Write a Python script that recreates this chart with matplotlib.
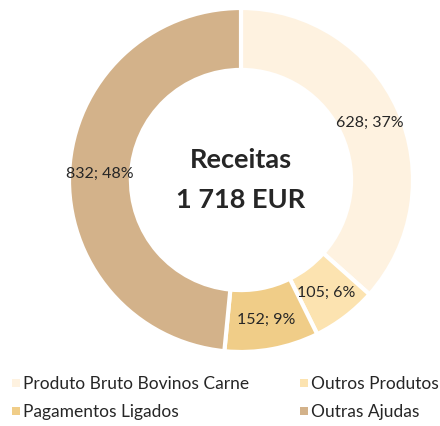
import matplotlib
matplotlib.use("Agg")
import matplotlib.pyplot as plt
import numpy as np

categories = ["Produto Bruto Bovinos Carne", "Outros Produtos", "Pagamentos Ligados", "Outras Ajudas"]
values = [628, 105, 152, 832]
percents = [37, 6, 9, 48]
colors = ["#FEF2E0", "#FCE3B0", "#F0CD88", "#D3B28A"]
total_label = "1 718 EUR"
title = "Receitas"

plt.rcParams['font.family'] = ['Lato', 'DejaVu Sans']

fig = plt.figure(figsize=(4.4, 4.27), dpi=100)
ax = fig.add_axes([69/440, 1 - 353/427, 344/440, 344/427])
ax.set_aspect('equal')
width = 0.36
wedges, _ = ax.pie(values, colors=colors, startangle=90, counterclock=False, radius=1,
                   wedgeprops=dict(width=width, edgecolor='white', linewidth=3))
cum = np.cumsum([0] + values[:-1])
tot = sum(values)
for v, p, c0 in zip(values, percents, cum):
    mid = 90 - 360 * (c0 + v / 2) / tot
    r = 1 - width / 2
    ax.text(r * np.cos(np.radians(mid)), r * np.sin(np.radians(mid)), f"{v}; {p}%",
            ha='center', va='center', fontsize=11.5, color='#262626')
ax.text(0, 0.12, title, ha='center', va='center', fontsize=19.5, fontweight='bold', color='#262626')
ax.text(0, -0.11, total_label, ha='center', va='center', fontsize=19.5, fontweight='bold', color='#262626')
ax.set_xlim(-1, 1)
ax.set_ylim(-1, 1)

# legend laid out row-wise: two per row
lx = [12, 300]
ly = [384, 412]
for i, (cat, col) in enumerate(zip(categories, colors)):
    x = lx[i % 2]
    y = ly[i // 2]
    fig.patches.append(plt.Rectangle((x / 440, 1 - (y + 4) / 427), 8 / 440, 8 / 427,
                                     transform=fig.transFigure, facecolor=col, edgecolor='none'))
    fig.text((x + 11) / 440, 1 - y / 427, cat, ha='left', va='center', fontsize=12.5, color='#262626')
fig.savefig("out.png", dpi=100)
